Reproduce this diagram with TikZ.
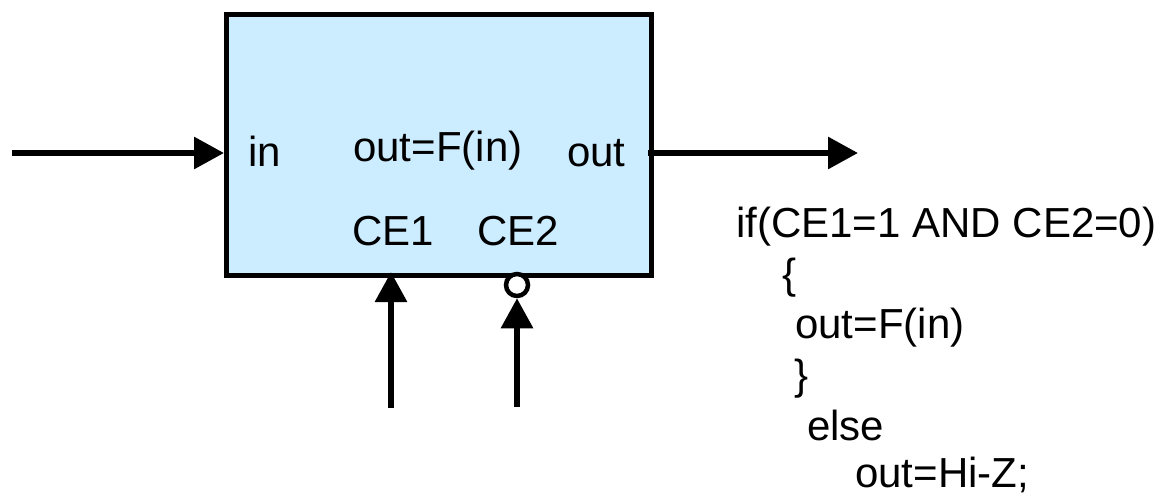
\documentclass[tikz,border=0pt]{standalone}
\usepackage{fontspec}
\setmainfont{Liberation Sans}
\usetikzlibrary{arrows.meta}
\definecolor{boxfill}{RGB}{204,236,255}
\begin{document}
\begin{tikzpicture}[x=1pt,y=-1pt,
  lbl/.style={anchor=base west,inner sep=0pt,font=\fontsize{42}{50}\selectfont},
  sig/.style={line width=6pt,-{Triangle[length=30pt,width=31pt]}},
  blockbox/.style={draw,line width=5pt,fill=boxfill,inner sep=0pt,minimum width=425pt,minimum height=261pt},
  bubble/.style={draw,circle,line width=4.5pt,fill=white,inner sep=0pt,minimum size=22pt}]
\useasboundingbox (0,0) rectangle (1164,500);
\node[blockbox] (box) at (439,145) {};
% labels in box
\node[lbl] (lin) at (248,166) {in};
\node[lbl] (lfun) at (353,161) {out=F(in)};
\node[lbl] (lout) at (567,166) {out};
\node[lbl] (lce1) at (352,245) {CE1};
\node[lbl] (lce2) at (477,245) {CE2};
% input / output
\coordinate (inStart) at (12,153);
\coordinate (outEnd) at (858,153);
\draw[sig] (inStart) -- (inStart -| box.west);
\draw[sig] ([xshift=-6pt]outEnd -| box.east) -- (outEnd);
% CE1
\coordinate (ce1Start) at (391,408);
\draw[sig] (ce1Start) -- ([yshift=6pt]ce1Start |- box.south);
% CE2 with bubble
\node[bubble] (bub) at (517,285) {};
\coordinate (ce2Start) at (517,407);
\draw[sig] (ce2Start) -- (bub.south);
% code text
\node[lbl] (c1) at (736,237) {if(CE1=1 AND CE2=0)};
\node[lbl] (c2) at (782,288) {\{};
\node[lbl] (c3) at (795,338) {out=F(in)};
\node[lbl] (c4) at (794,389) {\}};
\node[lbl] (c5) at (807,440) {else};
\node[lbl] (c6) at (855,487) {out=Hi-Z;};
\end{tikzpicture}
\end{document}
